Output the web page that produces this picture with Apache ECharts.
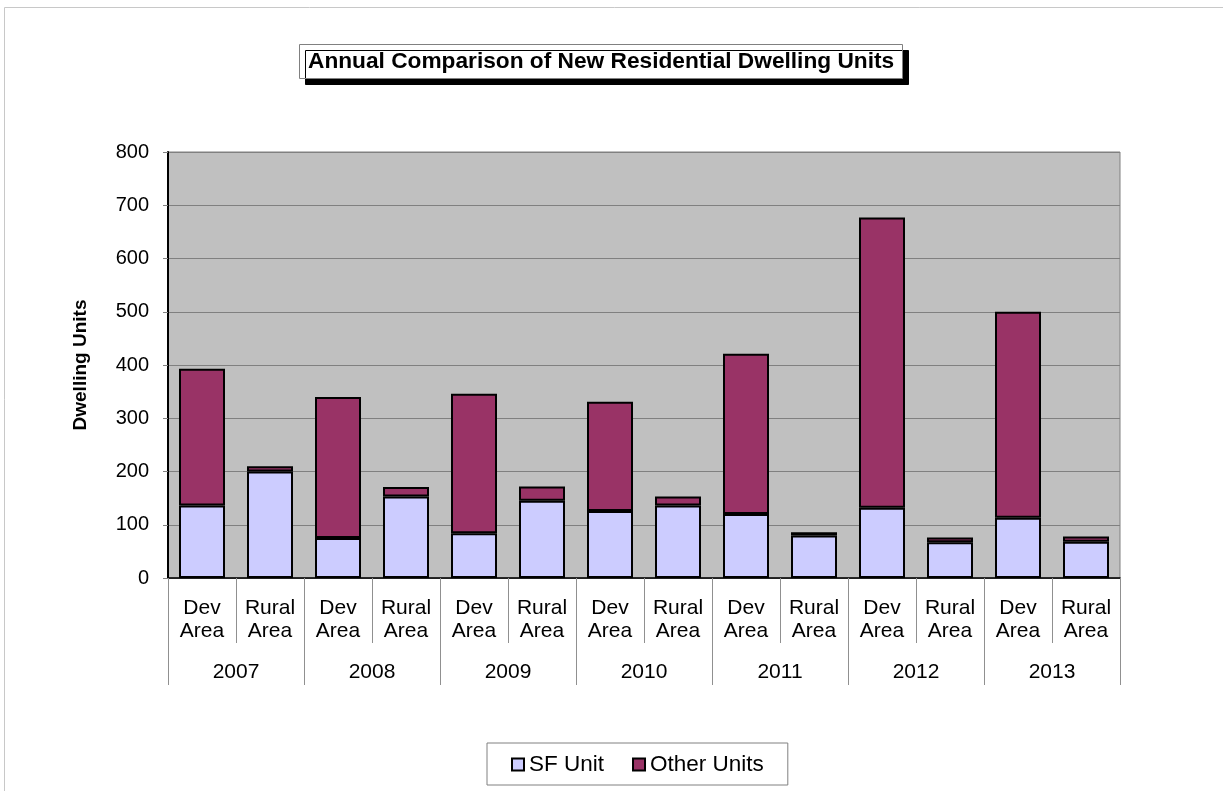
<!DOCTYPE html>
<html>
<head>
<meta charset="utf-8">
<script src="https://cdn.jsdelivr.net/npm/echarts@6/dist/echarts.min.js"></script>
<style>
html,body{margin:0;padding:0;background:#fff;}
#chart{width:1223px;height:791px;}
</style>
</head>
<body>
<div id="chart"></div>
<script>
var years = ['2007', '2008', '2009', '2010', '2011', '2012', '2013'];
var areas = ['Dev Area', 'Rural Area'];
var sfUnits = [136, 200, 75, 153, 84, 145, 126, 136, 120, 80, 132, 67, 113, 68];
var otherUnits = [257, 10, 265, 18, 262, 27, 205, 17, 301, 6, 545, 9, 387, 10];
var yTicks = [0, 100, 200, 300, 400, 500, 600, 700, 800];

var categories = [];
years.forEach(function (y) {
  areas.forEach(function (a) { categories.push(a); });
});

var FONT = "'Liberation Sans', Arial, Helvetica, sans-serif";
var chart = echarts.init(document.getElementById('chart'));
chart.setOption({
  animation: false,
  backgroundColor: '#ffffff',
  textStyle: { fontFamily: FONT, color: '#000' },
  graphic: [{
    type: 'rect',
    shape: { x: 4.5, y: 7.5, width: 1400, height: 1000 },
    style: { fill: 'none', stroke: '#c8c8c8', lineWidth: 1 },
    silent: true, z: -10
  }],
  title: {
    text: 'Annual Comparison of New Residential Dwelling Units',
    left: 299, top: 45,
    padding: [6, 9, 5, 9],
    backgroundColor: '#ffffff',
    borderColor: '#808080',
    borderWidth: 1,
    shadowColor: '#000000',
    shadowBlur: 0,
    shadowOffsetX: 6,
    shadowOffsetY: 6,
    textStyle: { fontFamily: FONT, fontSize: 22.7, fontWeight: 'bold', color: '#000', lineHeight: 22 }
  },
  legend: {
    data: ['SF Unit', 'Other Units'],
    left: 487, top: 743,
    padding: [10, 24, 9, 24],
    itemGap: 28,
    itemWidth: 12, itemHeight: 12,
    icon: 'rect',
    borderColor: '#808080', borderWidth: 1,
    backgroundColor: '#ffffff',
    textStyle: { fontFamily: FONT, fontSize: 22.5, color: '#000' },
    itemStyle: { borderColor: '#000', borderWidth: 2 }
  },
  grid: {
    left: 168, right: 103, top: 152, bottom: 213,
    show: true, backgroundColor: '#c0c0c0', borderColor: '#808080', borderWidth: 1
  },
  xAxis: [{
    type: 'category',
    data: categories,
    position: 'bottom',
    axisLine: { show: true, lineStyle: { color: '#000', width: 1.5 } },
    axisTick: { show: true, length: 65, interval: 0, lineStyle: { color: '#909090', width: 1 } },
    axisLabel: {
      interval: 0, margin: 19, fontSize: 21, lineHeight: 23, color: '#000', fontFamily: FONT,
      formatter: function (v) { return v.replace(' ', '\n'); }
    },
    splitLine: { show: false }
  }, {
    type: 'category',
    data: years,
    position: 'bottom',
    axisLine: { show: false },
    axisTick: { show: true, length: 107, interval: 0, lineStyle: { color: '#909090', width: 1 } },
    axisLabel: { interval: 0, margin: 83, fontSize: 21, lineHeight: 23, color: '#000', fontFamily: FONT },
    splitLine: { show: false }
  }],
  yAxis: {
    type: 'value',
    min: yTicks[0], max: yTicks[yTicks.length - 1], interval: 100,
    name: 'Dwelling Units',
    nameLocation: 'middle',
    nameRotate: 90,
    nameGap: 78,
    nameTextStyle: { fontFamily: FONT, fontSize: 19, fontWeight: 'bold', color: '#000' },
    axisLine: { show: true, lineStyle: { color: '#000', width: 2 } },
    axisTick: { show: true, length: 5, lineStyle: { color: '#808080' } },
    axisLabel: { fontSize: 20, color: '#000', margin: 19, fontFamily: FONT },
    splitLine: { show: true, lineStyle: { color: '#808080', width: 1 } }
  },
  series: [{
    name: 'SF Unit',
    type: 'bar',
    stack: 'units',
    xAxisIndex: 0,
    barWidth: 46,
    data: sfUnits,
    itemStyle: { color: '#ccccff', borderColor: '#000', borderWidth: 2 }
  }, {
    name: 'Other Units',
    type: 'bar',
    stack: 'units',
    xAxisIndex: 0,
    barWidth: 46,
    data: otherUnits,
    itemStyle: { color: '#993366', borderColor: '#000', borderWidth: 2 }
  }]
});
</script>
</body>
</html>
